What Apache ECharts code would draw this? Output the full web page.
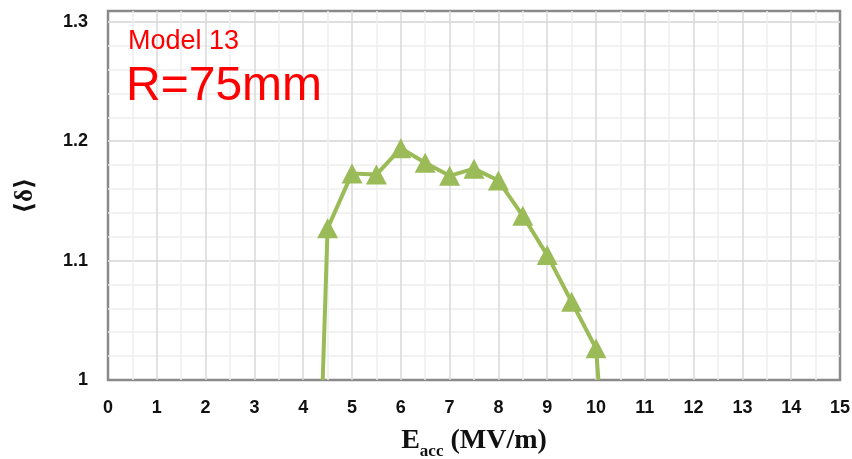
<!DOCTYPE html>
<html>
<head>
<meta charset="utf-8">
<script src="https://cdn.jsdelivr.net/npm/echarts@6/dist/echarts.min.js"></script>
<style>
html,body{margin:0;padding:0;background:#fff;}
#chart{width:852px;height:459px;}
</style>
</head>
<body>
<div id="chart"></div>
<script>
// Data
const xValues = [4.4, 4.5, 5, 5.5, 6, 6.5, 7, 7.5, 8, 8.5, 9, 9.5, 10, 10.05];
const yValues = [1.0, 1.127, 1.173, 1.172, 1.194, 1.182, 1.171, 1.177, 1.167, 1.1375, 1.1046, 1.0655, 1.0265, 1.0];
const markerShown = [false, true, true, true, true, true, true, true, true, true, true, true, true, false];
const xTickLabels = ['0','1','2','3','4','5','6','7','8','9','10','11','12','13','14','15'];
const yTickLabels = ['1','1.1','1.2','1.3'];
const titleLine1 = 'Model 13';
const titleLine2 = 'R=75mm';

const seriesData = xValues.map((x, i) => ({
  value: [x, yValues[i]],
  symbol: markerShown[i] ? 'triangle' : 'none'
}));

const chart = echarts.init(document.getElementById('chart'));
const GREEN = '#9BBB59';
const labelFont = 'Liberation Sans, Arial, sans-serif';

chart.setOption({
  animation: false,
  backgroundColor: '#ffffff',
  grid: {
    left: 108, right: 12, top: 11, bottom: 79,
    containLabel: false, outerBoundsMode: 'none',
    show: true, borderColor: '#8a8a8a', borderWidth: 2.5, backgroundColor: 'transparent'
  },
  xAxis: {
    type: 'value', min: 0, max: 15, interval: 1,
    axisLine: { show: false }, axisTick: { show: false },
    axisLabel: {
      margin: 19, color: '#111', fontWeight: 'bold', fontSize: 18, fontFamily: labelFont,
      formatter: v => xTickLabels[Math.round(v)] || ''
    },
    splitLine: { show: true, showMinLine: false, showMaxLine: false, lineStyle: { color: '#d9d9d9', width: 1.5 } },
    minorTick: { show: false, splitNumber: 2 },
    minorSplitLine: { show: true, lineStyle: { color: '#eeeeee', width: 1.5 } },
    name: '{e|E}{s|acc}{e| (MV/m)}',
    nameLocation: 'middle', nameGap: 47,
    nameTextStyle: {
      rich: {
        e: { fontFamily: 'Liberation Serif, Times New Roman, serif', fontWeight: 'bold', fontSize: 28, color: '#111', verticalAlign: 'bottom' },
        s: { fontFamily: 'Liberation Serif, Times New Roman, serif', fontWeight: 'bold', fontSize: 17, color: '#111', verticalAlign: 'bottom', padding: [0, 0, -5, 0] }
      }
    }
  },
  yAxis: [
    {
      type: 'value', min: 1, max: 1.309, interval: 0.02,
      axisLine: { show: false }, axisTick: { show: false },
      axisLabel: { show: false },
      splitLine: { show: true, showMinLine: false, showMaxLine: false, lineStyle: { color: '#eeeeee', width: 1.5 } }
    },
    {
      type: 'value', min: 1, max: 1.309, interval: 0.1,
      axisLine: { show: false }, axisTick: { show: false },
      axisLabel: {
        margin: 20, color: '#111', fontWeight: 'bold', fontSize: 18, fontFamily: labelFont,
        showMaxLabel: false,
        formatter: v => yTickLabels[Math.round((v - 1) * 10)] || ''
      },
      splitLine: { show: true, showMinLine: false, showMaxLine: false, lineStyle: { color: '#d9d9d9', width: 1.5 } },
      position: 'left', offset: 0,
      name: '⟨δ⟩', nameLocation: 'middle', nameRotate: 90, nameGap: 70,
      nameTextStyle: { fontFamily: 'Liberation Serif, DejaVu Serif, serif', fontWeight: 'bold', fontSize: 25, color: '#111' }
    }
  ],
  series: [{
    type: 'line',
    yAxisIndex: 0,
    data: seriesData,
    symbolSize: [21, 20],
    lineStyle: { color: GREEN, width: 4 },
    itemStyle: { color: GREEN, borderWidth: 0 },
    z: 5
  }],
  graphic: [
    { type: 'text', left: 128, top: 28, z: 100, style: { text: titleLine1, fill: '#ff0000', font: '27px Liberation Sans, Arial, sans-serif' } },
    { type: 'text', left: 126, top: 63, z: 100, style: { text: titleLine2, fill: '#ff0000', font: '48px Liberation Sans, Arial, sans-serif' } }
  ]
});
</script>
</body>
</html>
